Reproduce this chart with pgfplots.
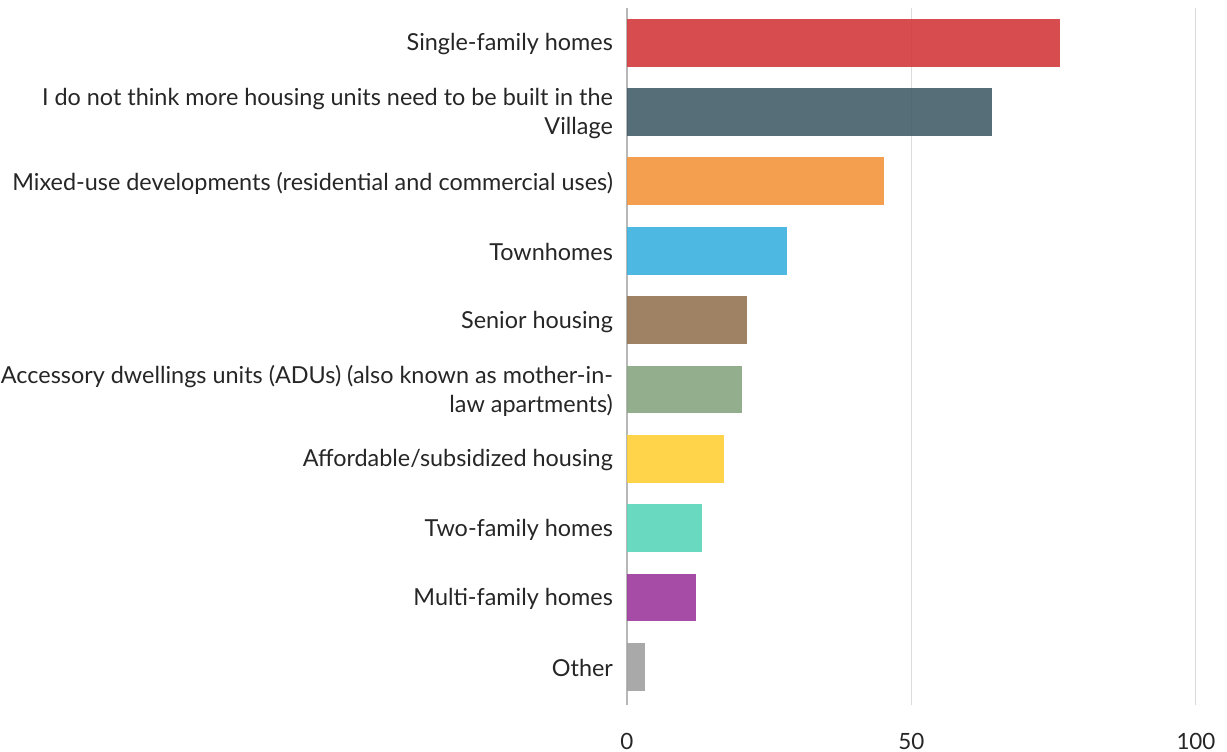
\documentclass[border=0pt]{standalone}
\usepackage{pgfplots}
\pgfplotsset{compat=1.18}
\usepackage{fontspec}
\setmainfont{Lato}
\definecolor{cRed}{RGB}{210,57,60}
\definecolor{cSlate}{RGB}{67,94,105}
\definecolor{cOrange}{RGB}{243,149,60}
\definecolor{cBlue}{RGB}{58,177,223}
\definecolor{cBrown}{RGB}{149,115,83}
\definecolor{cSage}{RGB}{134,165,127}
\definecolor{cYellow}{RGB}{255,207,54}
\definecolor{cTeal}{RGB}{89,213,185}
\definecolor{cPurple}{RGB}{156,57,156}
\definecolor{cGrey}{RGB}{160,160,160}
\begin{document}
\begin{tikzpicture}
\begin{axis}[
  scale only axis, width=284.5pt, height=348.5pt,
  xmin=0, xmax=100, ymin=-0.55, ymax=9.5,
  xbar, bar width=0.69, bar shift=0pt,
  axis line style={draw=none},
  xtick={50,100}, extra x ticks={0},
  extra x tick style={grid style={color=black!28, line width=1pt}},
  xmajorgrids, grid style={color=black!14, line width=0.5pt},
  major tick length=0pt, tick style={draw=none},
  ytick={0,1,2,3,4,5,6,7,8,9},
  yticklabels={Other, Multi-family homes, Two-family homes, Affordable/subsidized housing,
    {Accessory dwellings units (ADUs) (also known as mother-in-\\law apartments)},
    Senior housing, Townhomes, Mixed-use developments (residential and commercial uses),
    {I do not think more housing units need to be built in the\\Village},
    Single-family homes},
  yticklabel style={align=right, font=\fontsize{11.7}{14.5}\selectfont, text=black!85, xshift=-3.5pt, yshift=-0.8pt},
  xticklabel style={font=\fontsize{11.2}{13}\selectfont, text=black!85, yshift=-10.5pt},
  /pgf/number format/assume math mode=true,
  every axis plot/.append style={fill opacity=0.9, draw=none},
]
\addplot[fill=cGrey] coordinates {(3.2,0)};
\addplot[fill=cPurple] coordinates {(12.1,1)};
\addplot[fill=cTeal] coordinates {(13.2,2)};
\addplot[fill=cYellow] coordinates {(17.0,3)};
\addplot[fill=cSage] coordinates {(20.2,4)};
\addplot[fill=cBrown] coordinates {(21.1,5)};
\addplot[fill=cBlue] coordinates {(28.1,6)};
\addplot[fill=cOrange] coordinates {(45.2,7)};
\addplot[fill=cSlate] coordinates {(64.1,8)};
\addplot[fill=cRed] coordinates {(76.1,9)};
\end{axis}
\pgfresetboundingbox
\path[use as bounding box] ([xshift=-313.5pt,yshift=-23pt]current axis.south west) rectangle ([xshift=15.5pt,yshift=4pt]current axis.north east);
\end{tikzpicture}
\end{document}
